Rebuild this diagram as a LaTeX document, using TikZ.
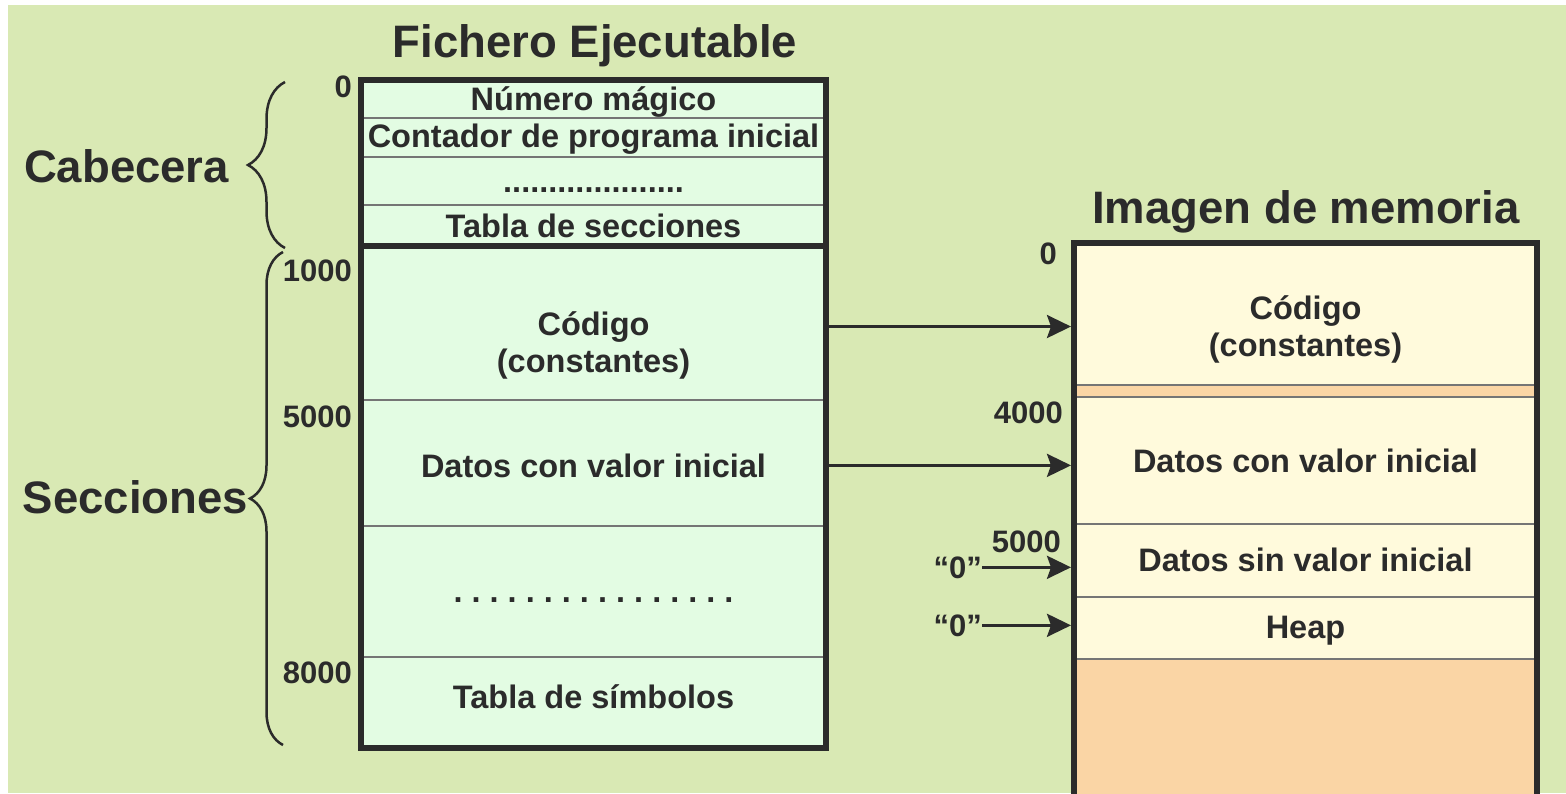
\documentclass[tikz,border=0pt]{standalone}
\usepackage{fontspec}
\setmainfont{Liberation Sans}
\usetikzlibrary{shapes.geometric, arrows.meta, decorations.pathreplacing}
\definecolor{fondo}{HTML}{D9E9B4}
\definecolor{verdecel}{HTML}{E3FCE3}
\definecolor{crema}{HTML}{FFFADC}
\definecolor{naranja}{HTML}{FAD5A5}
\definecolor{tinta}{HTML}{2B2B2B}
\tikzstyle{flecha} = [line width=3pt, tinta, -{Stealth[length=24pt,width=23pt,inset=4pt]}, shorten >=3pt]
\tikzstyle{texto} = [font=\bfseries\fontsize{32.5}{37}\selectfont, text=tinta, inner sep=0pt]
\tikzstyle{titulo} = [font=\bfseries\fontsize{45.5}{50}\selectfont, text=tinta, inner sep=0pt]
\tikzstyle{dir} = [font=\bfseries\fontsize{31}{35}\selectfont, text=tinta, inner sep=0pt]
\tikzstyle{linea} = [line width=1.3pt, tinta!65]
\tikzstyle{borde} = [line width=6pt, tinta]
\tikzstyle{llave} = [decorate, line width=2.5pt, tinta]

\begin{document}
\frenchspacing
\begin{tikzpicture}[x=1pt,y=-1pt]
\useasboundingbox (0,0) rectangle (1566,793);
\fill[fondo] (8,5) rectangle (1566,793);

% fichero ejecutable
\node[fill=verdecel, minimum width=465pt, minimum height=668pt, anchor=north west, inner sep=0pt] (fichero) at (361,80) {};
\foreach \y in {118,157,205,400,526,657}
  \draw[linea] (361,\y) -- (826,\y);
\draw[borde] (361,246) -- (826,246);
\draw[borde] (fichero.north west) rectangle (fichero.south east);

% imagen de memoria
\node[fill=crema, minimum width=463pt, minimum height=560pt, anchor=north west, inner sep=0pt] (memoria) at (1074,243) {};
\fill[naranja] (1074,385) rectangle (1537,397);
\fill[naranja] (1074,659) rectangle (1537,803);
\foreach \y in {385,397,524,597,659}
  \draw[linea] (1074,\y) -- (1537,\y);
\draw[borde] (1074,803) -- (1074,243) -- (1537,243) -- (1537,803);

% titulos
\node[titulo, anchor=base] (tituloF) at (595,57) {Fichero Ejecutable};
\node[titulo, anchor=base] (tituloM) at (1306,223) {Imagen de memoria};
\node[titulo, anchor=base] (cabecera) at (126.5,182) {Cabecera};
\node[titulo, anchor=base] (secciones) at (135.5,513) {Secciones};

% llaves
\draw[llave, decoration={brace, amplitude=37pt}] (285,248) -- (285,82);
\draw[llave, decoration={brace, amplitude=33pt}] (283,745) -- (283,252);

% contenido del fichero
\node[texto, anchor=base] (magico) at (593.5,110) {Número mágico};
\node[texto, anchor=base] (contador) at (593.5,147) {Contador de programa inicial};
\node[texto, anchor=base] (puntosC) at (593.5,192) {....................};
\node[texto, anchor=base] (tablaSec) at (593.5,237) {Tabla de secciones};
\node[texto, anchor=base] (codigoF) at (593.5,335) {Código};
\node[texto, anchor=base] (constF) at (593.5,372) {(constantes)};
\node[texto, anchor=base] (datosF) at (593.5,477) {Datos con valor inicial};
\node[texto, anchor=base] (puntosS) at (593.5,602) {. . . . . . . . . . . . . . . .};
\node[texto, anchor=base] (simbolos) at (593.5,708) {Tabla de símbolos};

% contenido de la memoria
\node[texto, anchor=base] (codigoM) at (1305.5,319) {Código};
\node[texto, anchor=base] (constM) at (1305.5,356) {(constantes)};
\node[texto, anchor=base] (datosM) at (1305.5,472) {Datos con valor inicial};
\node[texto, anchor=base] (sinvalM) at (1305.5,571) {Datos sin valor inicial};
\node[texto, anchor=base] (heap) at (1305.5,638) {Heap};

% direcciones
\node[dir, anchor=base east] (dF0) at (352,97) {0};
\node[dir, anchor=base east] (dF1000) at (352,281) {1000};
\node[dir, anchor=base east] (dF5000) at (352,427) {5000};
\node[dir, anchor=base east] (dF8000) at (352,683) {8000};
\node[dir, anchor=base east] (dM0) at (1057,264) {0};
\node[dir, anchor=base east] (dM4000) at (1063,423) {4000};
\node[dir, anchor=base east] (dM5000) at (1061,552) {5000};
\node[dir, anchor=base east] (cero1) at (982,578) {“0”};
\node[dir, anchor=base east] (cero2) at (982,636) {“0”};

% flechas
\draw[flecha] (fichero.east |- codigoF) -- (memoria.west |- codigoF);
\draw[flecha] (fichero.east |- datosF) -- (memoria.west |- datosF);
\draw[flecha] (cero1.east) -- (cero1.east -| memoria.west);
\draw[flecha] (cero2.east) -- (cero2.east -| memoria.west);

\end{tikzpicture}
\end{document}
